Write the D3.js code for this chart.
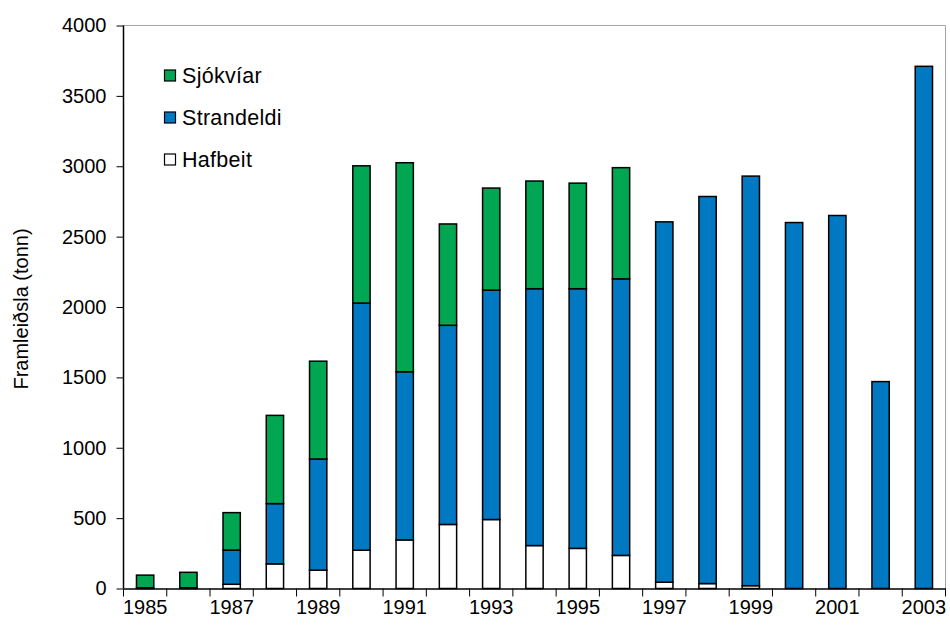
<!DOCTYPE html>
<html><head><meta charset="utf-8">
<script src="https://cdn.jsdelivr.net/npm/d3@7"></script>
<style>body{margin:0;background:#fff}svg{display:block}text{font-family:"Liberation Sans",Arial,sans-serif}</style>
</head><body>
<svg id="c" width="950" height="630"></svg>
<script>
const years = [1985,1986,1987,1988,1989,1990,1991,1992,1993,1994,1995,1996,1997,1998,1999,2000,2001,2002,2003];
const hafbeit    = [5,5,30,175,130,272,345,455,490,305,285,235,45,35,20,0,0,0,0];
const strandeldi = [0,0,243,428,790,1756,1195,1415,1630,1825,1845,1965,2560,2750,2910,2600,2650,1470,3710];
const sjokviar   = [90,110,266,627,695,975,1485,720,725,765,750,790,0,0,0,0,0,0,0];
const seriesNames = ["Hafbeit","Strandeldi","Sjókvíar"];
const colors = {"Hafbeit":"#ffffff","Strandeldi":"#0079c2","Sjókvíar":"#00a651"};
const yTicks = [0,500,1000,1500,2000,2500,3000,3500,4000];
const xLabelYears = [1985,1987,1989,1991,1993,1995,1997,1999,2001,2003];
const yLabel = "Framleiðsla (tonn)";

const svg = d3.select("#c");
const pL = 123.5, pR = 945.5, pT = 25.5, pB = 588.5;
const x = d3.scaleBand().domain(years).range([pL, pR]).padding(0);
const y = d3.scaleLinear().domain([0,4000]).range([pB, pT]);

const rows = years.map((yr,i)=>({year:yr, "Hafbeit":hafbeit[i], "Strandeldi":strandeldi[i], "Sjókvíar":sjokviar[i]}));
const stack = d3.stack().keys(seriesNames)(rows);
const bw = x.bandwidth()*0.40;

// plot area border (top, right)
svg.append("path").attr("d",`M${pL},${pT}H${pR}V${pB}`)
  .attr("fill","none").attr("stroke","#a6a6a6").attr("stroke-width",1);

stack.forEach(s=>{
  svg.append("g").selectAll("rect").data(s.filter(d=>d[1]-d[0]>0)).join("rect")
    .attr("x",d=>x(d.data.year)+x.bandwidth()/2-bw/2)
    .attr("width",bw)
    .attr("y",d=>y(d[1]))
    .attr("height",d=>y(d[0])-y(d[1]))
    .attr("fill",colors[s.key]).attr("stroke","#000").attr("stroke-width",1.5);
});

// y axis
const ya = svg.append("g").attr("transform",`translate(${pL},0)`)
  .call(d3.axisLeft(y).tickValues(yTicks).tickSize(7).tickPadding(10).tickFormat(d3.format("d")));
ya.select(".domain").attr("stroke","#000").attr("stroke-width",1.5).attr("d",`M0,${pT}V${pB}`);
ya.selectAll(".tick line").attr("stroke","#000").attr("stroke-width",1);
ya.selectAll("text").attr("font-size",20).attr("fill","#000").attr("font-family","Liberation Sans, Arial, sans-serif");

// x axis
const xa = svg.append("g").attr("transform",`translate(0,${pB})`)
  .call(d3.axisBottom(x).tickValues(xLabelYears).tickSize(0).tickPadding(11));
xa.select(".domain").attr("stroke","#000").attr("stroke-width",1.5);
xa.selectAll("text").attr("font-size",20).attr("fill","#000").attr("font-family","Liberation Sans, Arial, sans-serif");
const tickPos = years.map(yr=>x(yr)).concat([pR]);
xa.selectAll("line.bt").data(tickPos).join("line").attr("class","bt")
  .attr("x1",d=>d).attr("x2",d=>d).attr("y1",0).attr("y2",8)
  .attr("stroke","#000").attr("stroke-width",1);

// y label
svg.append("text").attr("transform",`translate(28,${(pT+pB)/2+2}) rotate(-90)`)
  .attr("text-anchor","middle").attr("font-size",20).attr("fill","#000").text(yLabel);

// legend
const legendItems = ["Sjókvíar","Strandeldi","Hafbeit"];
const lg = svg.append("g");
legendItems.forEach((k,i)=>{
  const cy = 76 + i*42;
  lg.append("rect").attr("x",164.5).attr("y",cy-6).attr("width",11).attr("height",11)
    .attr("fill",colors[k]).attr("stroke","#000").attr("stroke-width",1.2);
  lg.append("text").attr("x",182).attr("y",cy+7).attr("font-size",21.5).attr("letter-spacing",0.3).attr("fill","#000").text(k);
});
</script>
</body></html>
